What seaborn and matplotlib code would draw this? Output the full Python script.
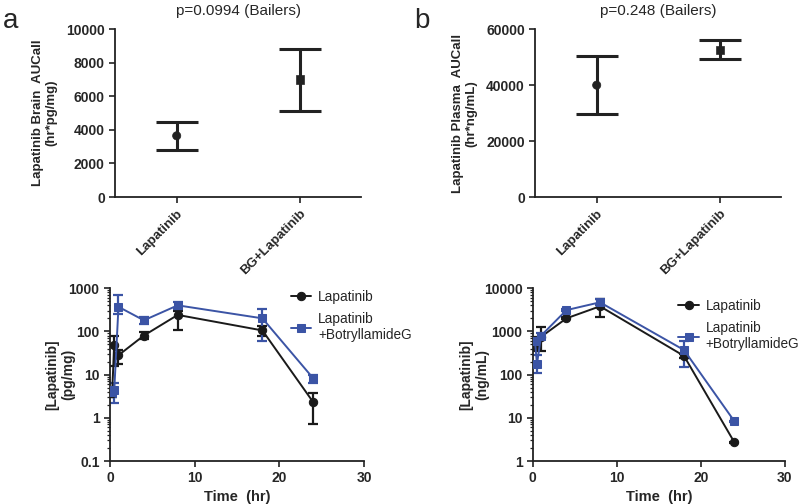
import matplotlib
matplotlib.use("Agg")
import matplotlib.pyplot as plt
import seaborn as sns
import numpy as np
import pandas as pd

# ---- data ----
groups = ["Lapatinib", "BG+Lapatinib"]
brain_auc_mean = [3650, 7000]
brain_auc_low = [2820, 5150]
brain_auc_high = [4500, 8850]
plasma_auc_mean = [40000, 52600]
plasma_auc_low = [29600, 49200]
plasma_auc_high = [50400, 56000]

times = [0.25, 0.5, 1, 4, 8, 18, 24]
brain_lap = [3.8, 48, 28, 80, 240, 105, 2.3]
brain_lap_low = [3.0, 16, 18, 65, 110, 80, 0.7]
brain_lap_high = [4.8, 80, 38, 95, 300, 130, 3.8]
brain_bg = [4.0, 4.3, 370, 180, 400, 200, 8.2]
brain_bg_low = [3.0, 2.2, 250, 150, 330, 60, 6.5]
brain_bg_high = [5.0, 6.5, 700, 215, 470, 330, 10.0]

plasma_lap = [450, 600, 750, 2000, 3800, 270, 2.7]
plasma_lap_low = [350, 380, 350, 1900, 2200, 240, 2.6]
plasma_lap_high = [600, 750, 1250, 2100, 5500, 300, 2.8]
plasma_bg = [600, 180, 800, 3100, 4700, 370, 8.3]
plasma_bg_low = [500, 110, 700, 2900, 4000, 150, 8.0]
plasma_bg_high = [700, 280, 900, 3300, 5500, 600, 8.6]

series_names = ["Lapatinib", "Lapatinib\n+BotryllamideG"]
titles = ["p=0.0994 (Bailers)", "p=0.248 (Bailers)"]

sns.set_style("ticks")
plt.rcParams["font.family"] = ["Liberation Sans", "DejaVu Sans"]

BLACK = "#1a1a1a"
BLUE = "#3b54a5"

fig = plt.figure(figsize=(8, 5.04), dpi=100)
ax_a = fig.add_axes([0.144, 0.609, 0.3075, 0.333])
ax_b = fig.add_axes([0.669, 0.609, 0.3075, 0.333])
ax_c = fig.add_axes([0.1375, 0.0853, 0.3175, 0.343])
ax_d = fig.add_axes([0.666, 0.0853, 0.315, 0.343])


def auc_panel(ax, mean, low, high, ylim, step, ylabel, title):
    df = pd.DataFrame({"group": groups, "auc": mean})
    xs = np.arange(len(groups))
    err = [np.array(mean) - np.array(low), np.array(high) - np.array(mean)]
    ax.errorbar(xs, mean, yerr=err, fmt="none", ecolor="#222222",
                elinewidth=2.2, capsize=15, capthick=2.2, zorder=2)
    sns.scatterplot(data=df, x="group", y="auc", ax=ax, color="#222222",
                    style="group", markers=["o", "s"], s=35, legend=False,
                    edgecolor="#222222", zorder=3)
    ax.set_xlim(-0.5, 1.5)
    ax.set_ylim(*ylim)
    ax.set_yticks(np.arange(0, ylim[1] + 1, step))
    ax.set_xticks(xs)
    ax.set_xticklabels(groups, rotation=45, ha="right", rotation_mode="anchor",
                       fontweight="bold", fontsize=9.5)
    ax.set_xlabel("")
    ax.set_ylabel(ylabel, fontweight="bold", fontsize=9.5, labelpad=6)
    ax.set_title(title, fontsize=11, pad=10)
    for lab in ax.get_yticklabels():
        lab.set_fontweight("bold")
        lab.set_fontsize(10)
    sns.despine(ax=ax)
    for s in ["left", "bottom"]:
        ax.spines[s].set_linewidth(1.3)
        ax.spines[s].set_color("#222222")
    ax.tick_params(width=1.2, length=4, color="#222222")


auc_panel(ax_a, brain_auc_mean, brain_auc_low, brain_auc_high, (0, 10000), 2000,
          "Lapatinib Brain  AUCall\n(hr*pg/mg)", titles[0])
auc_panel(ax_b, plasma_auc_mean, plasma_auc_low, plasma_auc_high, (0, 60000), 20000,
          "Lapatinib Plasma  AUCall\n(hr*ng/mL)", titles[1])


def pk_panel(ax, lap, lap_lo, lap_hi, bg, bg_lo, bg_hi, ylim, ylabel, legend_anchor, lpad):
    rows = []
    for t, v in zip(times, lap):
        rows.append({"time": t, "conc": v, "series": series_names[0]})
    for t, v in zip(times, bg):
        rows.append({"time": t, "conc": v, "series": series_names[1]})
    df = pd.DataFrame(rows)
    for vals, lo, hi, col in [(lap, lap_lo, lap_hi, BLACK), (bg, bg_lo, bg_hi, BLUE)]:
        v = np.array(vals)
        ax.errorbar(times, vals, yerr=[v - np.array(lo), np.array(hi) - v], fmt="none",
                    ecolor=col, elinewidth=1.6, capsize=3.5, capthick=1.6, zorder=2)
    sns.lineplot(data=df, x="time", y="conc", hue="series", style="series",
                 palette=[BLACK, BLUE], markers=["o", "s"], dashes=False,
                 markersize=6, linewidth=1.4, markeredgecolor=None, ax=ax, zorder=3)
    ax.set_yscale("log")
    ax.set_ylim(*ylim)
    ax.set_xlim(0, 30)
    ax.set_xticks([0, 10, 20, 30])
    yt = [10.0 ** k for k in range(int(np.log10(ylim[0])), int(np.log10(ylim[1])) + 1)]
    ax.set_yticks(yt)
    ax.set_yticklabels([("%g" % y) for y in yt])
    ax.set_xlabel("Time  (hr)", fontweight="bold", fontsize=10.5, labelpad=3)
    ax.set_ylabel(ylabel, fontweight="bold", fontsize=10, labelpad=lpad)
    for lab in ax.get_yticklabels() + ax.get_xticklabels():
        lab.set_fontweight("bold")
        lab.set_fontsize(10)
    sns.despine(ax=ax)
    for s in ["left", "bottom"]:
        ax.spines[s].set_linewidth(1.3)
        ax.spines[s].set_color("#222222")
    ax.tick_params(which="major", width=1.2, length=4, color="#222222")
    ax.tick_params(which="minor", axis="y", width=0.9, length=2.5, color="#222222")
    ax.tick_params(which="minor", axis="x", length=0)
    leg = ax.legend(loc="upper left", bbox_to_anchor=legend_anchor, frameon=False,
                    fontsize=9.8, handlelength=1.5, handletextpad=0.5,
                    labelspacing=0.6, borderaxespad=0)
    leg.set_clip_on(False)


pk_panel(ax_c, brain_lap, brain_lap_low, brain_lap_high, brain_bg, brain_bg_low,
         brain_bg_high, (0.1, 1000), "[Lapatinib]\n(pg/mg)", (0.69, 1.023), -5)
pk_panel(ax_d, plasma_lap, plasma_lap_low, plasma_lap_high, plasma_bg, plasma_bg_low,
         plasma_bg_high, (1, 10000), "[Lapatinib]\n(ng/mL)", (0.556, 0.97), -4)

fig.text(0.004, 0.985, "a", fontsize=20, va="top", ha="left")
fig.text(0.518, 0.985, "b", fontsize=20, va="top", ha="left")

fig.savefig("out.png", dpi=100)
